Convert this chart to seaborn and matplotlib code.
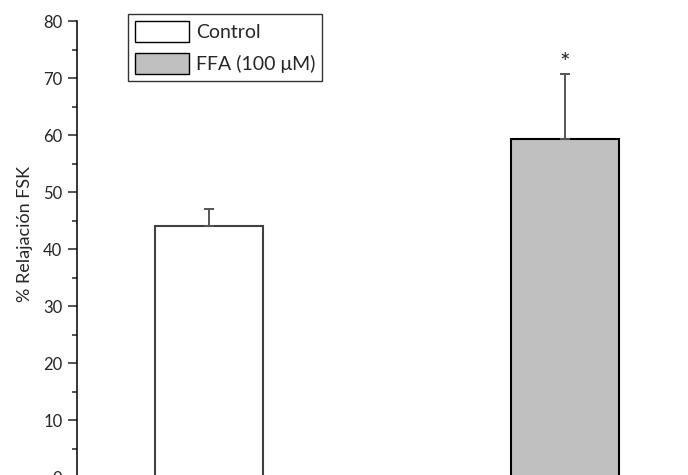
import numpy as np
import pandas as pd
import matplotlib
matplotlib.use('Agg')
import matplotlib.pyplot as plt
import seaborn as sns
from matplotlib.ticker import MultipleLocator

# ===== data =====
groups = ['Control', 'FFA (100 \u03bcM)']
relax_mean = [44.0, 59.3]
relax_sem = [3.0, 11.4]
bar_colors = ['white', '#c0c0c0']
edge_colors = ['#404040', 'black']

df = pd.DataFrame({'group': groups, 'relax': relax_mean})

sns.set_style('ticks')
plt.rcParams['font.family'] = ['Lato', 'DejaVu Sans']

fig = plt.figure(figsize=(6.88, 4.75), dpi=100)
ax = fig.add_axes([77 / 688, -2.3 / 475, (688 - 77) / 688, 456.3 / 475])

sns.barplot(data=df, x='group', y='relax', hue='group', order=groups,
            hue_order=groups, palette=bar_colors, width=0.303,
            errorbar=None, legend=False, ax=ax, linewidth=1.5)
for patch, ec in zip(ax.patches, edge_colors):
    patch.set_edgecolor(ec)

# upper error bars only
xpos = np.arange(len(groups))
ax.errorbar(xpos, relax_mean, yerr=[np.zeros(len(groups)), relax_sem],
            fmt='none', ecolor='#555555', elinewidth=1.4, capsize=3.6,
            capthick=1.4, zorder=1)

ax.text(1, 72.6, '*', ha='center', va='center', fontsize=18)

ax.set_ylim(0, 80)
ax.set_xlim(-0.371, 1.345)
ax.yaxis.set_major_locator(MultipleLocator(10))
ax.yaxis.set_minor_locator(MultipleLocator(5))
ax.tick_params(axis='y', which='major', length=6.5, width=1.1, labelsize=12,
               direction='out', pad=4)
ax.tick_params(axis='y', which='minor', length=3.6, width=1.1, direction='out')
ax.set_xticks([])
ax.set_xlabel('')
ax.set_ylabel('% Relajación FSK', fontsize=13)
ax.yaxis.set_label_coords(-0.072, 0.533)

for s in ['top', 'right', 'bottom']:
    ax.spines[s].set_visible(False)
ax.spines['left'].set_linewidth(1.1)
ax.spines['left'].set_color('black')

handles = [plt.Rectangle((0, 0), 1, 1, facecolor=c, edgecolor='black', linewidth=1)
           for c in bar_colors]
leg = fig.legend(handles, groups, loc='upper left',
                 bbox_to_anchor=(128 / 688, 1 - 14 / 475), fontsize=14,
                 frameon=True, fancybox=False, shadow=False,
                 handlelength=2.8, handleheight=1.3, handletextpad=0.35,
                 borderpad=0.35, labelspacing=0.55, borderaxespad=0)
leg.get_frame().set_edgecolor('black')
leg.get_frame().set_linewidth(1.0)

fig.savefig('out.png', dpi=100)
